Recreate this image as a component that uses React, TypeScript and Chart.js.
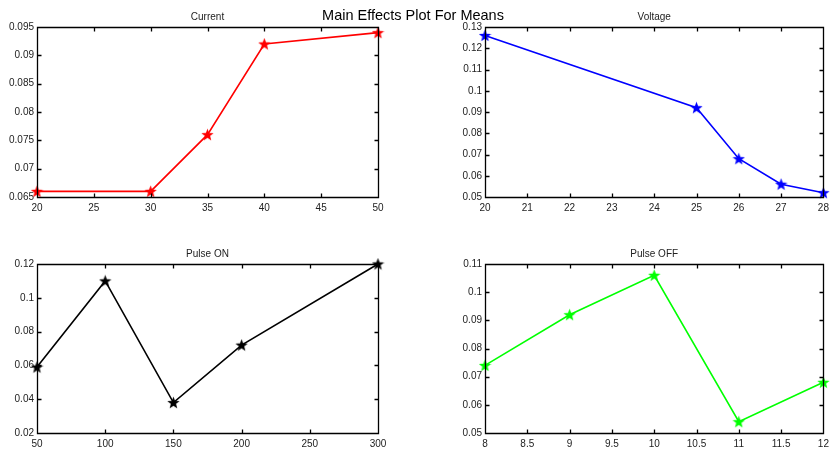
import React, { useEffect, useRef } from "react";
import { Chart, registerables } from "chart.js";
Chart.register(...registerables);

const W = 831;
const H = 449;

const mainTitle = "Main Effects Plot For Means";

const currentX = [20, 30, 35, 40, 50];
const currentY = [0.066, 0.066, 0.076, 0.092, 0.094];
const currentXTicks = [20, 25, 30, 35, 40, 45, 50];
const currentYTicks = [0.065, 0.07, 0.075, 0.08, 0.085, 0.09, 0.095];

const voltageX = [20, 25, 26, 27, 28];
const voltageY = [0.126, 0.092, 0.068, 0.056, 0.052];
const voltageXTicks = [20, 21, 22, 23, 24, 25, 26, 27, 28];
const voltageYTicks = [0.05, 0.06, 0.07, 0.08, 0.09, 0.1, 0.11, 0.12, 0.13];

const pulseOnX = [50, 100, 150, 200, 300];
const pulseOnY = [0.059, 0.11, 0.038, 0.072, 0.12];
const pulseOnXTicks = [50, 100, 150, 200, 250, 300];
const pulseOnYTicks = [0.02, 0.04, 0.06, 0.08, 0.1, 0.12];

const pulseOffX = [8, 9, 10, 11, 12];
const pulseOffY = [0.074, 0.092, 0.106, 0.054, 0.068];
const pulseOffXTicks = [8, 8.5, 9, 9.5, 10, 10.5, 11, 11.5, 12];
const pulseOffYTicks = [0.05, 0.06, 0.07, 0.08, 0.09, 0.1, 0.11];

type Panel = {
  title: string;
  color: string;
  xs: number[];
  ys: number[];
  xTicks: number[];
  yTicks: number[];
  box: { left: number; top: number; right: number; bottom: number };
  main?: boolean;
};

const panels: Panel[] = [
  { title: "Current", color: "#ff0000", xs: currentX, ys: currentY, xTicks: currentXTicks, yTicks: currentYTicks, box: { left: 37, top: 27, right: 378, bottom: 197 }, main: true },
  { title: "Voltage", color: "#0000ff", xs: voltageX, ys: voltageY, xTicks: voltageXTicks, yTicks: voltageYTicks, box: { left: 485, top: 27, right: 826, bottom: 197 } },
  { title: "Pulse ON", color: "#000000", xs: pulseOnX, ys: pulseOnY, xTicks: pulseOnXTicks, yTicks: pulseOnYTicks, box: { left: 37, top: 264, right: 378, bottom: 433 } },
  { title: "Pulse OFF", color: "#00ff00", xs: pulseOffX, ys: pulseOffY, xTicks: pulseOffXTicks, yTicks: pulseOffYTicks, box: { left: 485, top: 264, right: 825, bottom: 433 } },
];

const FONT = "'Liberation Sans', Arial, sans-serif";
const YW = 34;
const XH = 16;

function makeStar(color: string, size = 13) {
  const c = document.createElement("canvas");
  c.width = size;
  c.height = size;
  const ctx = c.getContext("2d")!;
  const cx = size / 2;
  const cy = size / 2 + 0.5;
  const R = size / 2;
  const r = R * 0.42;
  ctx.beginPath();
  for (let i = 0; i < 10; i++) {
    const a = -Math.PI / 2 + (i * Math.PI) / 5;
    const rad = i % 2 === 0 ? R : r;
    ctx.lineTo(cx + rad * Math.cos(a), cy + rad * Math.sin(a));
  }
  ctx.closePath();
  ctx.fillStyle = color;
  ctx.fill();
  return c;
}

const fmt = (v: number) => String(Number(Number(v).toFixed(4)));

function PanelChart({ p }: { p: Panel }) {
  const ref = useRef<HTMLCanvasElement>(null);
  useEffect(() => {
    const canvas = ref.current!;
    const framePlugin = {
      id: "frame",
      afterDatasetsDraw(chart: any) {
        const { ctx, chartArea: a, scales } = chart;
        ctx.save();
        ctx.strokeStyle = "#000";
        ctx.lineWidth = 1.3;
        ctx.beginPath();
        const L = Math.round(a.left) + 0.5;
        const R = Math.round(a.right) + 0.5;
        const T = Math.round(a.top) + 0.5;
        const B = Math.round(a.bottom) + 0.5;
        ctx.rect(L, T, R - L, B - T);
        const tl = 4;
        p.xTicks.forEach((v) => {
          const x = Math.round(scales.x.getPixelForValue(v)) + 0.5;
          ctx.moveTo(x, B);
          ctx.lineTo(x, B - tl);
          ctx.moveTo(x, T);
          ctx.lineTo(x, T + tl);
        });
        p.yTicks.forEach((v) => {
          const y = Math.round(scales.y.getPixelForValue(v)) + 0.5;
          ctx.moveTo(L, y);
          ctx.lineTo(L + tl, y);
          ctx.moveTo(R, y);
          ctx.lineTo(R - tl, y);
        });
        ctx.stroke();
        ctx.fillStyle = "#222";
        ctx.textAlign = "center";
        ctx.textBaseline = "middle";
        ctx.font = `10px ${FONT}`;
        ctx.fillText(p.title, (a.left + a.right) / 2, a.top - 10);
        if (p.main) {
          ctx.fillStyle = "#000";
          ctx.font = `14.5px ${FONT}`;
          ctx.fillText(mainTitle, 413, 16);
        }
        ctx.restore();
      },
    };
    const chart = new Chart(canvas, {
      type: "scatter",
      data: {
        datasets: [
          {
            data: p.xs.map((x, i) => ({ x, y: p.ys[i] })),
            showLine: true,
            borderColor: p.color,
            backgroundColor: p.color,
            borderWidth: 1.6,
            pointStyle: makeStar(p.color) as any,
            pointRadius: 6,
            clip: false as any,
          },
        ],
      },
      options: {
        animation: false,
        responsive: false,
        events: [],
        layout: {
          padding: {
            left: p.box.left - YW,
            top: p.box.top,
            right: W - p.box.right,
            bottom: Math.max(0, H - p.box.bottom - XH),
          },
        },
        plugins: { legend: { display: false }, title: { display: false }, tooltip: { enabled: false } },
        scales: {
          x: {
            type: "linear",
            min: p.xTicks[0],
            max: p.xTicks[p.xTicks.length - 1],
            grid: { display: false, drawTicks: false },
            border: { display: false },
            afterBuildTicks: (s: any) => {
              s.ticks = p.xTicks.map((v) => ({ value: v }));
            },
            afterFit: (s: any) => {
              s.height = XH;
              s.paddingLeft = 0;
              s.paddingRight = 0;
              s.paddingTop = 0;
              s.paddingBottom = 0;
            },
            ticks: {
              autoSkip: false,
              maxRotation: 0,
              padding: 5,
              color: "#222",
              font: { family: FONT, size: 10 },
              callback: (v: any) => fmt(v),
            },
          },
          y: {
            type: "linear",
            min: p.yTicks[0],
            max: p.yTicks[p.yTicks.length - 1],
            grid: { display: false, drawTicks: false },
            border: { display: false },
            afterBuildTicks: (s: any) => {
              s.ticks = p.yTicks.map((v) => ({ value: v }));
            },
            afterFit: (s: any) => {
              s.width = YW;
              s.paddingLeft = 0;
              s.paddingRight = 0;
              s.paddingTop = 0;
              s.paddingBottom = 0;
            },
            ticks: {
              autoSkip: false,
              padding: 3,
              color: "#222",
              font: { family: FONT, size: 10 },
              callback: (v: any) => fmt(v),
            },
          },
        },
      },
      plugins: [framePlugin],
    } as any);
    return () => chart.destroy();
  }, [p]);
  return (
    <canvas
      ref={ref}
      width={W}
      height={H}
      style={{ position: "absolute", left: 0, top: 0, width: W, height: H }}
    />
  );
}

export default function App() {
  return (
    <div style={{ position: "fixed", left: 0, top: 0, width: W, height: H, background: "#fff", overflow: "hidden" }}>
      {panels.map((p) => (
        <PanelChart key={p.title} p={p} />
      ))}
    </div>
  );
}
